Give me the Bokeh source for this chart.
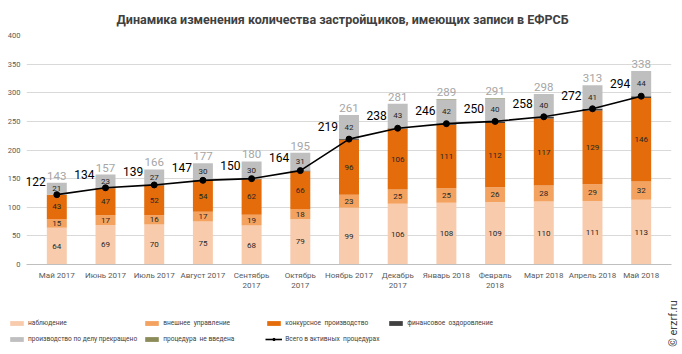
import math
from bokeh.plotting import figure
from bokeh.models import FactorRange, Label, Legend, LegendItem, ColumnDataSource, FixedTicker
from bokeh.core.properties import value
from bokeh.embed import file_html
from bokeh.resources import INLINE

months = ["Май 2017", "Июнь 2017", "Июль 2017", "Август 2017", "Сентябрь\n2017", "Октябрь\n2017",
          "Ноябрь 2017", "Декабрь\n2017", "Январь 2018", "Февраль\n2018", "Март 2018", "Апрель 2018", "Май 2018"]
nabl = [64, 69, 70, 75, 68, 79, 99, 106, 108, 109, 110, 111, 113]
vnesh = [15, 17, 16, 17, 19, 18, 23, 25, 25, 26, 28, 29, 32]
konk = [43, 47, 52, 54, 62, 66, 96, 106, 111, 112, 117, 129, 146]
fin = [0, 1, 1, 1, 1, 1, 1, 1, 2, 3, 3, 3, 3]
prekr = [21, 23, 27, 30, 30, 31, 42, 43, 42, 40, 40, 41, 44]
nevved = [0, 0, 0, 0, 0, 0, 0, 0, 1, 1, 0, 0, 0]
active = [122, 134, 139, 147, 150, 164, 219, 238, 246, 250, 258, 272, 294]
totals = [143, 157, 166, 177, 180, 195, 261, 281, 289, 291, 298, 313, 338]

names = ["наблюдение", "внешнее  управление", "конкурсное  производство", "финансовое  оздоровление",
         "производство по делу прекращено", "процедура  не введена"]
line_name = "Всего в активных  процедурах"
series = [nabl, vnesh, konk, fin, prekr, nevved]
colors = ["#f8cbad", "#f4a25f", "#e46c0a", "#404040", "#bfbfbf", "#8c8c5a"]

FONT = "Roboto"

p = figure(width=682, height=300, x_range=FactorRange(*months, range_padding=0.1225, range_padding_units="absolute"),
           y_range=(0, 400), output_backend="svg", toolbar_location=None,
           min_border_left=26, min_border_right=11, min_border_top=35, min_border_bottom=36)
p.outline_line_color = None
p.background_fill_color = "white"
p.xgrid.grid_line_color = None
p.ygrid.grid_line_color = "#d9d9d9"
p.ygrid.grid_line_width = 1
p.yaxis.ticker = FixedTicker(ticks=list(range(0, 401, 50)))
p.yaxis.axis_line_color = None
p.yaxis.major_tick_line_color = None
p.yaxis.major_tick_out = 0
p.yaxis.minor_tick_line_color = None
p.yaxis.major_label_text_font_size = "7.5px"
p.yaxis.major_label_text_color = "#595959"
p.yaxis.major_label_text_font = FONT
p.yaxis.major_label_standoff = 6
p.xaxis.axis_line_color = "#bfbfbf"
p.xaxis.major_tick_line_color = None
p.xaxis.major_tick_out = 0
p.xaxis.minor_tick_line_color = None
p.xaxis.major_label_text_font_size = "8px"
p.xaxis.major_label_text_color = "#595959"
p.xaxis.major_label_text_font = FONT
p.xaxis.major_label_standoff = 6

p.title.text = "Динамика изменения количества застройщиков, имеющих записи в ЕФРСБ"
p.title.align = "left"
p.title.offset = 90
p.title.text_font = FONT
p.title.text_font_style = "bold"
p.title.text_font_size = "12.5px"
p.title.text_color = "#404040"
p.title.standoff = 18

bottom = [0] * len(months)
for name, vals, col in zip(names, series, colors):
    top = [b + v for b, v in zip(bottom, vals)]
    src = ColumnDataSource(dict(x=months, bottom=bottom, top=top))
    p.vbar(x="x", bottom="bottom", top="top", width=0.41, source=src,
           fill_color=col, line_color=None)
    bottom = top

# segment labels
bottom = [0] * len(months)
for vals in series:
    if vals is fin or vals is nevved:
        bottom = [b + v for b, v in zip(bottom, vals)]
        continue
    mids = [b + v / 2 for b, v in zip(bottom, vals)]
    p.text(x=months, y=mids, text=[str(v) for v in vals], text_font=value(FONT),
           text_font_size="8px", text_color="#262626", text_align="center", text_baseline="middle")
    bottom = [b + v for b, v in zip(bottom, vals)]

# totals above bars
p.text(x=months, y=totals, text=[str(v) for v in totals], text_font=value(FONT),
       text_font_size="11.5px", text_color="#a6a6a6", text_align="center", text_baseline="bottom",
       y_offset=-3)

# active line
p.line(x=months, y=active, line_color="black", line_width=1.6)
p.scatter(x=months, y=active, size=6, fill_color="black", line_color="black")
p.text(x=months, y=active, text=[str(v) for v in active], text_font=value(FONT),
       text_font_size="12px", text_color="black", text_align="right", text_baseline="middle",
       x_offset=-11, y_offset=-13)

# legend strip (proxy renderers lie outside the visible range)
q = figure(width=682, height=54, x_range=(0, 1), y_range=(0, 1), output_backend="svg",
           toolbar_location=None, min_border=0, x_axis_type=None, y_axis_type=None)
q.grid.visible = False
q.outline_line_color = None
items = []
for n, col in zip(names, colors):
    r = q.vbar(x=[-5], top=[-5], bottom=[-6], width=0.1, fill_color=col, line_color=None)
    items.append(LegendItem(label=n, renderers=[r]))
lr = q.line(x=[-5, -4], y=[-5, -5], line_color="black", line_width=1.6)
cr = q.scatter(x=[-5], y=[-5], size=5, fill_color="black", line_color="black")
items.append(LegendItem(label=line_name, renderers=[lr, cr]))
legend = Legend(items=items, ncols=4, location=(8, 10), orientation="horizontal",
                glyph_width=17, glyph_height=6, label_height=10, label_width=96,
                label_text_font_size="6.6px", label_text_font=FONT, label_text_color="#404040",
                label_standoff=3, spacing=6, padding=0, margin=0,
                border_line_color=None, background_fill_alpha=0)
q.add_layout(legend, "center")
q.add_layout(Label(x=673, y=31, x_units="screen", y_units="screen", text="© erzrf.ru",
                   angle=math.pi / 2, text_font=FONT, text_font_size="11px",
                   text_color="#404040", text_align="center", text_baseline="middle"))

open("out.html", "w").write(file_html([p, q], INLINE))
